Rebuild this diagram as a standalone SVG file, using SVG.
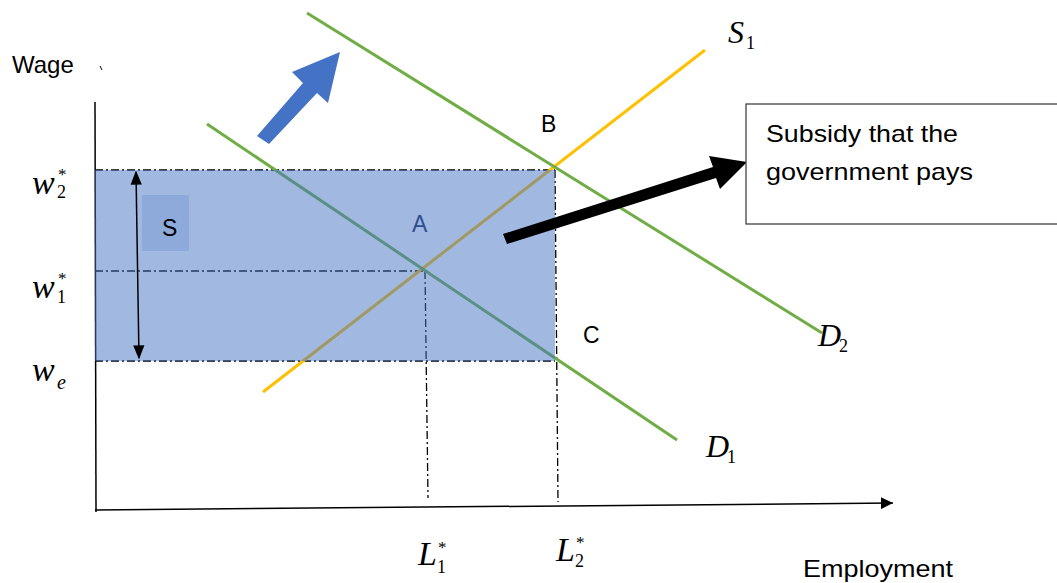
<svg xmlns="http://www.w3.org/2000/svg" width="1057" height="583" viewBox="0 0 1057 583">
<style>
.sans{font-family:"Liberation Sans",Arial,sans-serif;fill:#000}
.math{font-family:"Liberation Serif","Times New Roman",serif;font-style:italic;fill:#000}
.sub{font-family:"Liberation Serif","Times New Roman",serif;font-style:normal;fill:#000}
.dd{stroke:#000;stroke-width:1.3;stroke-dasharray:8 3 2 3;fill:none}
.green{stroke:#70AD47;stroke-width:3;fill:none}
.orange{stroke:#FFC000;stroke-width:3;fill:none}
</style>
<defs>
<marker id="ah" viewBox="0 0 10 10" refX="10" refY="5" markerWidth="12" markerHeight="12" markerUnits="userSpaceOnUse" orient="auto-start-reverse">
<path d="M0,0 L10,5 L0,10 z" fill="#000"/>
</marker>
<marker id="ah2" viewBox="0 0 10 10" refX="9" refY="5" markerWidth="14" markerHeight="14" markerUnits="userSpaceOnUse" orient="auto-start-reverse">
<path d="M0,1 L10,5 L0,9 z" fill="#000"/>
</marker>
</defs>
<rect width="1057" height="583" fill="#fff"/>

<g id="axes">
<line x1="95" y1="102" x2="96" y2="512" stroke="#000" stroke-width="1.5"/>
<line x1="95" y1="510" x2="893" y2="503" stroke="#000" stroke-width="1.5" marker-end="url(#ah)"/>
<line x1="100" y1="66" x2="102" y2="70" stroke="#000" stroke-width="1"/>
</g>

<g id="connectors">
<line class="dd" x1="95" y1="170" x2="555" y2="170"/>
<line class="dd" x1="95" y1="271" x2="425" y2="271"/>
<line class="dd" x1="95" y1="361" x2="555" y2="361"/>
<line class="dd" x1="425" y1="271" x2="428" y2="498"/>
<line class="dd" x1="555" y1="170" x2="558" y2="502"/>
<line id="S1" class="orange" x1="263" y1="392" x2="705" y2="50"/>
<line id="D1" class="green" x1="207" y1="124" x2="677" y2="440"/>
<line id="D2" class="green" x1="307" y1="13" x2="822" y2="333"/>
</g>

<g id="subsidy-area">
<rect x="95" y="170" width="460" height="191" fill="#4472C4" fill-opacity="0.5"/>
<rect x="142" y="195" width="47" height="56" fill="#4472C4" fill-opacity="0.2"/>
<text class="sans" x="162" y="236" font-size="23">S</text>
<line x1="136" y1="172" x2="139" y2="358" stroke="#000" stroke-width="1.5" marker-start="url(#ah2)" marker-end="url(#ah2)"/>
</g>

<g id="arrows">
<polygon points="340,52 292,72 303,83 257,136 269,144 317,93 328,103" fill="#4472C4"/>
<polygon points="503,234 713,167 709,156 747,162 720,189 716,178 507,244" fill="#000"/>
</g>

<g id="callout">
<rect x="746" y="104" width="320" height="120" fill="#fff" stroke="#333" stroke-width="1.2"/>
<text class="sans" x="766" y="142" font-size="24" textLength="192" lengthAdjust="spacingAndGlyphs">Subsidy that the</text>
<text class="sans" x="766" y="180" font-size="24" textLength="207" lengthAdjust="spacingAndGlyphs">government pays</text>
</g>

<g id="point-labels">
<text class="sans" x="541" y="132" font-size="23">B</text>
<text class="sans" x="412" y="232" font-size="23" style="fill:#2F4F8F">A</text>
<text class="sans" x="583" y="343" font-size="23">C</text>
<text class="sans" x="12" y="73" font-size="24">Wage</text>
<text class="sans" x="803" y="577" font-size="24" textLength="150" lengthAdjust="spacingAndGlyphs">Employment</text>
</g>

<g id="math-labels">
<text class="math" x="32" y="194" font-size="34">w</text>
<text class="sub" x="57" y="198" font-size="18">2</text>
<text class="sub" x="58" y="180" font-size="17">*</text>

<text class="math" x="32" y="298" font-size="34">w</text>
<text class="sub" x="57" y="303" font-size="18">1</text>
<text class="sub" x="58" y="284" font-size="17">*</text>

<text class="math" x="32" y="381" font-size="34">w</text>
<text class="math" x="57" y="389" font-size="20">e</text>

<text class="math" x="418" y="565" font-size="34">L</text>
<text class="sub" x="437" y="573" font-size="18">1</text>
<text class="sub" x="438" y="553" font-size="17">*</text>

<text class="math" x="556" y="561" font-size="34">L</text>
<text class="sub" x="575" y="567" font-size="18">2</text>
<text class="sub" x="576" y="548" font-size="17">*</text>

<text class="math" x="728" y="43" font-size="32">S</text>
<text class="sub" x="746" y="49" font-size="18">1</text>

<text class="math" x="818" y="346" font-size="32">D</text>
<text class="sub" x="839" y="352" font-size="18">2</text>

<text class="math" x="706" y="457" font-size="32">D</text>
<text class="sub" x="727" y="463" font-size="18">1</text>
</g>
</svg>
